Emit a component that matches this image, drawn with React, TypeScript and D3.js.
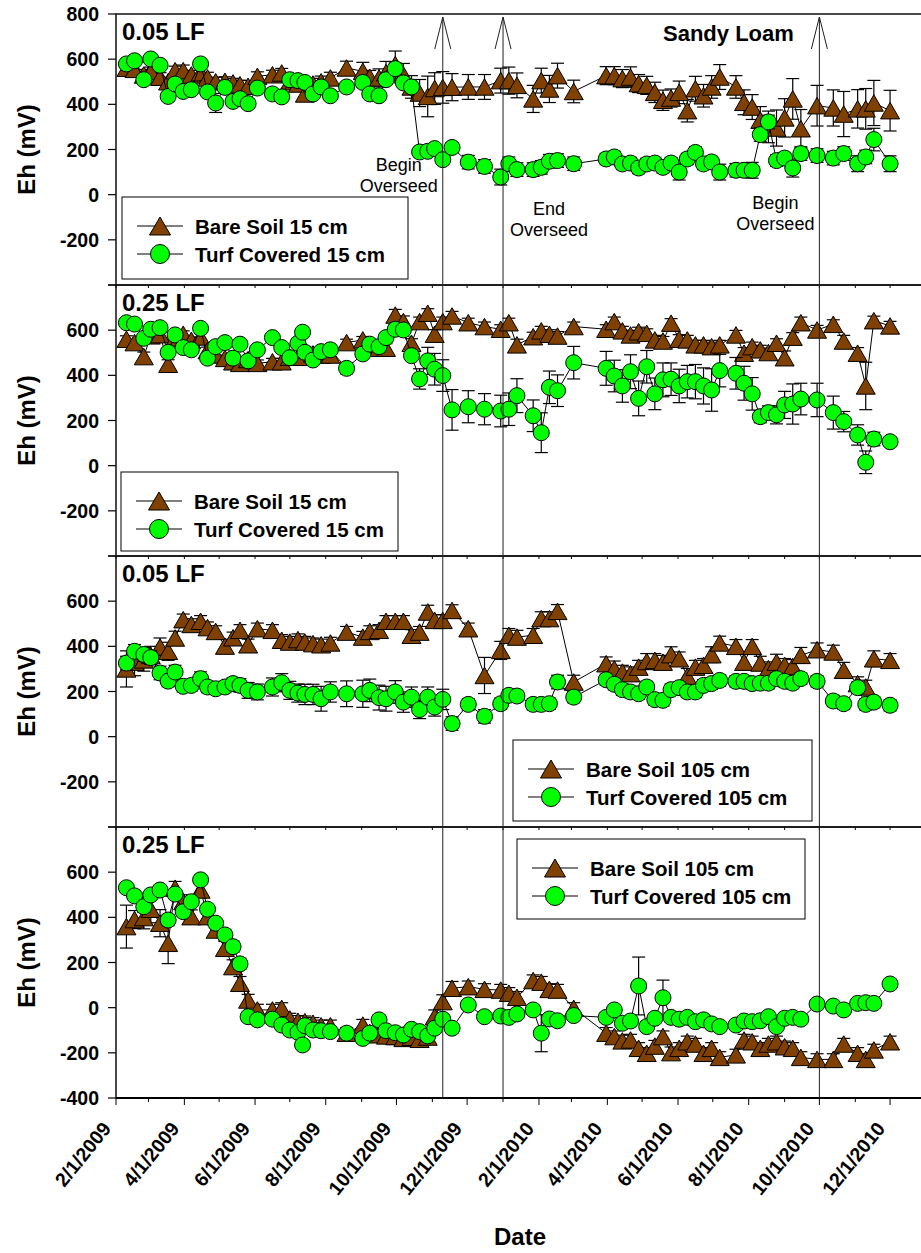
import React, { useEffect } from "react";
import * as d3 from "d3";

// sampling dates shared by all four panels
const sampleDates = [
  "2009-02-10", "2009-02-17", "2009-02-25", "2009-03-03", "2009-03-11", "2009-03-18", "2009-03-24", "2009-03-31",
  "2009-04-07", "2009-04-15", "2009-04-21", "2009-04-28", "2009-05-06", "2009-05-13", "2009-05-19", "2009-05-26",
  "2009-06-03", "2009-06-16", "2009-06-24", "2009-07-01", "2009-07-08", "2009-07-12", "2009-07-14", "2009-07-21",
  "2009-07-28", "2009-08-05", "2009-08-19", "2009-09-02", "2009-09-08", "2009-09-16", "2009-09-22", "2009-09-30",
  "2009-10-07", "2009-10-14", "2009-10-21", "2009-10-28", "2009-11-03", "2009-11-10", "2009-11-18", "2009-12-02",
  "2009-12-16", "2009-12-30", "2010-01-06", "2010-01-13", "2010-01-27", "2010-02-03", "2010-02-10", "2010-02-17",
  "2010-03-03", "2010-03-31", "2010-04-07", "2010-04-14", "2010-04-21", "2010-04-28", "2010-05-05", "2010-05-12",
  "2010-05-19", "2010-05-26", "2010-06-02", "2010-06-09", "2010-06-16", "2010-06-23", "2010-06-30", "2010-07-07",
  "2010-07-21", "2010-07-28", "2010-08-04", "2010-08-11", "2010-08-18", "2010-08-25", "2010-09-01", "2010-09-08",
  "2010-09-15", "2010-09-29", "2010-10-13", "2010-10-22", "2010-11-03", "2010-11-10", "2010-11-17", "2010-12-01",
];

// panel 1: 0.05 LF, 15 cm
const p1Bare = [
  560, 555, 530, 545, 520, 500, 549, 549, 530, 540, 517, 500, 502, 495, 487, 480, 524, 531, 539, 500, 490,
  null,
  446, 490, 500, 517, 561, 546, 520, 517, 540, 576, 531, 477, 450, 435, 470, 475, 476,
  477, 477, 505, 505, 484, 424, 505, 468, 527, 457, 527, 527, 514, 521, 492, 484, 453, 418, 428, 453,
  372, 469, 438, 477, 521, 477, 409, 388, 330, 300, 295, 340, 424, 292, 394, 384, 357, 380, 380, 406, 372,
];
const p1BareErr = [
  20, 20, 25, 20, 20, 20, 20, 25, 20, 20, 25, 20, 20, 20, 20, 25, 20, 20, 20, 20, 20,
  null,
  25, 25, 25, 25, 30, 40, 30, 40, 50, 60, 50, 50, 60, 90, 70, 70, 60,
  55, 55, 55, 60, 55, 60, 55, 60, 55, 50, 40, 40, 40, 45, 40, 40, 45, 45, 40, 50,
  50, 55, 50, 50, 55, 50, 55, 55, 60, 70, 80, 85, 90, 85, 90, 80, 100, 85, 90, 100, 90,
];
const p1Turf = [
  579, 593, 509, 601, 573, 435, 490, 457, 465, 579, 455, 406, 475, 413, 425, 403, 472, 446, 433, 509, 505,
  null,
  497, 446, 477, 438, 477, 497, 446, 438, 509, 558, 495, 477, 189, 192, 204, 155, 209,
  144, 125, 78, 137, 111, 111, 121, 148, 151, 137, 158, 167, 136, 140, 118, 136, 140, 121, 140, 100,
  158, 187, 136, 145, 100, 108, 108, 108, 266, 322, 151, 162, 118, 182, 173, 162, 182, 137, 167, 244, 137,
];
const p1TurfErr = [
  15, 15, 15, 15, 15, 15, 15, 15, 15, 15, 15, 42, 15, 20, 15, 20, 15, 15, 15, 15, 15,
  null,
  15, 15, 15, 15, 15, 15, 15, 15, 20, 25, 15, 15, 20, 20, 20, 20, 20,
  30, 30, 35, 30, 30, 30, 30, 30, 30, 30, 25, 25, 25, 25, 25, 25, 25, 25, 25, 35,
  25, 25, 25, 25, 35, 30, 30, 35, 30, 30, 25, 25, 40, 30, 30, 30, 30, 35, 30, 50, 35,
];

// panel 2: 0.25 LF, 15 cm
const p2Bare = [
  560, 545, 483, 575, 580, 449, 565, 582, 555, 570, 510, 490, 475, 460, 453, 470, 453, 460, 460, 480, 480,
  null,
  513, 495, 490, 490, 545, 557, 530, 520, 520, 667, 638, 542, 638, 675, 582, 638, 663,
  633, 616, 604, 633, 535, 571, 597, 582, 574, 616, 604, 638, 597, 579, 593, 586, 557, 552, 631, 560,
  557, 535, 535, 527, 535, 579, 498, 527, 513, 501, 542, 478, 569, 633, 601, 626, 552, 498, 353, 642, 619,
];
const p2BareErr = [
  15, 15, 20, 15, 15, 20, 15, 15, 15, 15, 15, 15, 15, 15, 15, 15, 15, 15, 15, 15, 15,
  null,
  15, 15, 15, 15, 15, 15, 15, 15, 20, 25, 25, 20, 20, 20, 20, 20, 20,
  20, 20, 20, 20, 25, 20, 20, 20, 20, 20, 20, 20, 20, 20, 20, 20, 20, 20, 20, 20,
  20, 20, 20, 20, 20, 20, 25, 20, 20, 20, 20, 30, 20, 25, 20, 20, 25, 25, 105, 20, 20,
];
const p2Turf = [
  633, 627, 564, 604, 611, 502, 579, 523, 513, 608, 476, 527, 545, 476, 538, 464, 513, 567, 523, 478, 542,
  591,
  502, 468, 505, 513, 431, 495, 538, 527, 567, 604, 601, 487, 384, 464, 427, 399, 247,
  261, 250, 242, 250, 310, 221, 146, 347, 332, 456, 431, 397, 353, 416, 298, 438, 318, 380, 383, 353,
  372, 372, 353, 335, 421, 409, 365, 318, 217, 235, 225, 269, 273, 295, 291, 235, 195, 136, 15, 118, 106,
];
const p2TurfErr = [
  15, 15, 15, 15, 15, 15, 15, 15, 15, 15, 15, 15, 15, 15, 15, 15, 15, 15, 15, 15, 15,
  15,
  15, 15, 15, 15, 25, 15, 15, 15, 15, 20, 20, 20, 45, 60, 70, 70, 90,
  71, 69, 70, 72, 75, 70, 88, 72, 70, 72, 75, 70, 72, 75, 77, 72, 70, 75, 72, 74,
  72, 76, 80, 94, 72, 70, 75, 72, 27, 30, 40, 60, 89, 70, 74, 73, 45, 45, 50, 30, 15,
];

// panel 3: 0.05 LF, 105 cm
const p3Bare = [
  300, 330, 340, 360, 397, 378, 437, 518, 497, 511, 483, 466, 401, 438, 471, 407, 478, 471, 427, 419, 430,
  null,
  419, 412, 407, 415, 463, 441, 466, 471, 511, 511, 511, 449, 463, 552, 515, 515, 559,
  478, 271, 382, 449, 441, 449, 523, 523, 555, 242, 323, 300, 286, 279, 308, 333, 338, 330, 363, 345,
  267, 308, 316, 363, 415, 400, 330, 400, 326, 301, 330, 316, 311, 360, 385, 375, 294, 235, 220, 345, 338,
];
const p3BareErr = [
  80, 60, 50, 40, 40, 40, 30, 25, 25, 25, 25, 25, 30, 25, 25, 25, 25, 25, 25, 25, 25,
  null,
  25, 25, 25, 25, 25, 25, 25, 25, 25, 25, 25, 25, 25, 30, 25, 25, 25,
  25, 80, 40, 30, 30, 30, 30, 30, 30, 30, 30, 35, 30, 30, 30, 35, 30, 30, 35, 30,
  35, 30, 30, 35, 30, 30, 35, 30, 30, 30, 35, 30, 30, 35, 30, 30, 35, 30, 30, 35, 30,
];
const p3Turf = [
  326, 378, 364, 350, 282, 246, 286, 223, 227, 257, 220, 212, 220, 235, 227, 205, 198, 220, 239, 205, 193,
  null,
  187, 187, 168, 198, 190, 190, 205, 173, 168, 198, 153, 175, 120, 175, 131, 165, 58,
  143, 90, 146, 183, 180, 143, 143, 146, 242, 175, 252, 232, 208, 198, 190, 220, 164, 161, 208, 217,
  198, 198, 227, 235, 249, 245, 245, 235, 237, 237, 257, 245, 237, 257, 245, 158, 146, 217, 143, 153, 139,
];
const p3TurfErr = [
  30, 30, 30, 30, 30, 25, 30, 25, 25, 30, 25, 25, 25, 25, 30, 35, 35, 40, 40, 40, 40,
  null,
  45, 45, 55, 45, 57, 60, 50, 55, 55, 50, 45, 45, 40, 45, 40, 45, 30,
  25, 30, 25, 25, 25, 25, 25, 25, 30, 25, 25, 25, 25, 25, 25, 25, 25, 25, 25, 25,
  25, 25, 25, 25, 25, 25, 25, 25, 25, 25, 25, 25, 25, 25, 25, 25, 25, 25, 25, 25, 25,
];

// panel 4: 0.25 LF, 105 cm
const p4Bare = [
  359, 390, 399, 436, 374, 285, 529, 470, 403, 521, 403, 344, 263, 182, 108, 34, -10, -10, -3, -50, -60,
  null,
  -62, -69, -80, -80, -113, -77, -110, -120, -125, -128, -136, -131, -140, -130, -40, 27, 86,
  93, 81, 78, 64, 46, 120, 113, 81, 78, -3, -113, -128, -147, -143, -180, -202, -170, -128, -199, -180,
  -151, -161, -202, -180, -220, -209, -143, -151, -180, -161, -151, -173, -180, -220, -229, -229, -161, -202, -229, -187, -151,
];
const p4BareErr = [
  95, 40, 50, 60, 60, 90, 30, 30, 30, 30, 30, 30, 30, 30, 30, 25, 25, 25, 25, 25, 25,
  null,
  25, 25, 25, 25, 25, 25, 25, 25, 30, 35, 35, 35, 30, 30, 30, 30, 30,
  25, 25, 25, 25, 25, 25, 25, 25, 25, 25, 25, 25, 25, 25, 25, 25, 25, 25, 25, 25,
  25, 25, 25, 25, 25, 25, 25, 25, 25, 25, 25, 25, 25, 25, 25, 25, 25, 25, 25, 25, 25,
];
const p4Turf = [
  531, 495, 447, 499, 521, 388, 503, 425, 469, 566, 436, 374, 322, 270, 194, -40, -54, -51, -77, -99, -109,
  -165,
  -80, -99, -102, -106, -113, -136, -113, -54, -102, -111, -121, -96, -106, -125, -91, -51, -91,
  12, -40, -37, -43, -28, -10, -113, -50, -58, -35, -43, -10, -69, -59, 96, -84, -47, 44, -43, -51,
  -43, -62, -54, -72, -84, -77, -59, -62, -58, -40, -84, -47, -43, -51, 16, 7, -10, 19, 22, 19, 105,
];
const p4TurfErr = [
  20, 20, 25, 20, 20, 25, 20, 20, 20, 20, 20, 20, 25, 25, 25, 20, 20, 20, 20, 20, 20,
  20,
  20, 20, 20, 20, 20, 20, 20, 20, 20, 20, 20, 20, 20, 20, 20, 20, 20,
  20, 20, 20, 20, 20, 20, 82, 20, 20, 20, 20, 20, 20, 20, 128, 20, 20, 78, 20, 20,
  20, 20, 20, 20, 20, 20, 20, 20, 20, 20, 20, 20, 20, 20, 20, 20, 20, 20, 20, 20, 20,
];

const panelTitles = ["0.05 LF", "0.25 LF", "0.05 LF", "0.25 LF"];
const depthLabels = ["15 cm", "15 cm", "105 cm", "105 cm"];
const yTickValues = [-400, -200, 0, 200, 400, 600, 800];
const overseedDates = ["2009-11-10", "2010-01-01", "2010-10-01"];
const overseedNotes = [["Begin", "Overseed"], ["End", "Overseed"], ["Begin", "Overseed"]];

const FONT = "'Liberation Sans', Arial, Helvetica, sans-serif";
const BROWN = "#804000";
const GREEN = "#00ff00";

const parse = d3.timeParse("%Y-%m-%d");
const dates = sampleDates.map((s) => parse(s));

const x = d3
  .scaleTime()
  .domain([new Date(2009, 1, 1), new Date(2011, 0, 1)])
  .range([116, 926]);

const PANEL_H = 271;
const panelTops = [14, 285, 556, 827];
const bottom = panelTops[3] + PANEL_H;

const panels = [
  { bare: p1Bare, bareErr: p1BareErr, turf: p1Turf, turfErr: p1TurfErr, legend: { x: 122, y: 197, w: 286, h: 82 } },
  { bare: p2Bare, bareErr: p2BareErr, turf: p2Turf, turfErr: p2TurfErr, legend: { x: 121, y: 472, w: 277, h: 79 } },
  { bare: p3Bare, bareErr: p3BareErr, turf: p3Turf, turfErr: p3TurfErr, legend: { x: 513, y: 740, w: 299, h: 81 } },
  { bare: p4Bare, bareErr: p4BareErr, turf: p4Turf, turfErr: p4TurfErr, legend: { x: 517, y: 839, w: 288, h: 80 } },
];

const triPath = (cx: number, cy: number, w: number, h: number) =>
  `M${cx},${cy - h / 2}L${cx + w / 2},${cy + h / 2}L${cx - w / 2},${cy + h / 2}Z`;

function Series({ vals, errs, y, kind }: any) {
  const pts = dates
    .map((d, i) => ({ d: d as Date, v: vals[i], e: errs[i] }))
    .filter((p) => p.v !== null && p.v !== undefined);
  const line = d3
    .line<any>()
    .x((p) => x(p.d))
    .y((p) => y(p.v));
  return (
    <g>
      <path d={line(pts) || ""} fill="none" stroke="#000" strokeWidth={1} />
      {pts.map((p, i) => {
        const cx = x(p.d);
        const e = p.e || 0;
        const y1 = y(p.v + e);
        const y2 = y(p.v - e);
        return (
          <g key={"e" + i} stroke="#000" strokeWidth={1.2}>
            <line x1={cx} x2={cx} y1={y1} y2={y2} />
            <line x1={cx - 6.5} x2={cx + 6.5} y1={y1} y2={y1} />
            <line x1={cx - 6.5} x2={cx + 6.5} y1={y2} y2={y2} />
          </g>
        );
      })}
      {pts.map((p, i) =>
        kind === "tri" ? (
          <path key={"m" + i} d={triPath(x(p.d), y(p.v), 19, 16.5)} fill={BROWN} stroke="#000" strokeWidth={1} />
        ) : (
          <circle key={"m" + i} cx={x(p.d)} cy={y(p.v)} r={8} fill={GREEN} stroke="#000" strokeWidth={1} />
        )
      )}
    </g>
  );
}

function Legend({ box, depth }: any) {
  const lx = box.x + 15;
  const rows = [
    { label: `Bare Soil ${depth}`, kind: "tri", cy: box.y + 29 },
    { label: `Turf Covered ${depth}`, kind: "circ", cy: box.y + 57 },
  ];
  return (
    <g>
      <rect x={box.x} y={box.y} width={box.w} height={box.h} fill="#fff" stroke="#000" strokeWidth={1} />
      {rows.map((r) => (
        <g key={r.label}>
          <line x1={lx} x2={lx + 46} y1={r.cy} y2={r.cy} stroke="#000" strokeWidth={1} />
          {r.kind === "tri" ? (
            <path d={triPath(lx + 23, r.cy, 21, 18)} fill={BROWN} stroke="#000" />
          ) : (
            <circle cx={lx + 23} cy={r.cy} r={9.5} fill={GREEN} stroke="#000" />
          )}
          <text x={lx + 58} y={r.cy + 7.5} fontSize={20.5} fontWeight="bold" fontFamily={FONT}>
            {r.label}
          </text>
        </g>
      ))}
    </g>
  );
}

export default function App() {
  useEffect(() => {
    document.body.style.margin = "0";
  }, []);

  const months = d3.timeMonth.range(new Date(2009, 1, 1), new Date(2011, 0, 1));
  const fmt = d3.timeFormat("%-m/%-d/%Y");

  return (
    <svg width={921} height={1253} style={{ display: "block", background: "#fff" }} fontFamily={FONT}>
      {panels.map((p, pi) => {
        const top = panelTops[pi];
        const y = d3.scaleLinear().domain([-400, 800]).range([top + PANEL_H, top]);
        return (
          <g key={pi}>
            {/* y axis ticks and labels */}
            {yTickValues.map((v) => {
              const show = (v < 800 || pi === 0) && (v > -400 || pi === 3);
              return (
                <g key={v}>
                  <line x1={108} x2={116} y1={y(v)} y2={y(v)} stroke="#000" strokeWidth={1.2} />
                  {show && (
                    <text x={99} y={y(v) + 7} textAnchor="end" fontSize={19.5} fontWeight="bold">
                      {v}
                    </text>
                  )}
                </g>
              );
            })}
            {/* month ticks along the panel bottom */}
            {months.map((m, i) => (
              <line
                key={i}
                x1={x(m)}
                x2={x(m)}
                y1={top + PANEL_H}
                y2={top + PANEL_H + (pi === 3 ? (i % 2 === 0 ? 7 : 4) : 3)}
                stroke="#000"
                strokeWidth={1}
              />
            ))}
            <text
              transform={`translate(35,${top + PANEL_H / 2}) rotate(-90)`}
              textAnchor="middle"
              fontSize={24}
              fontWeight="bold"
            >
              Eh (mV)
            </text>
            <text x={122} y={top + 26} fontSize={24} fontWeight="bold">
              {panelTitles[pi]}
            </text>
            <Series vals={p.bare} errs={p.bareErr} y={y} kind="tri" />
            <Series vals={p.turf} errs={p.turfErr} y={y} kind="circ" />
            <Legend box={p.legend} depth={depthLabels[pi]} />
          </g>
        );
      })}

      {/* panel frames */}
      {panelTops.map((t, i) => (
        <rect key={i} x={116} y={t} width={810} height={PANEL_H} fill="none" stroke="#111" strokeWidth={1.5} />
      ))}
      <line x1={116} x2={921} y1={bottom} y2={bottom} stroke="#000" strokeWidth={2} />

      {/* overseeding markers */}
      {overseedDates.map((s) => {
        const vx = x(parse(s) as Date);
        return (
          <g key={s} stroke="#222" strokeWidth={1} fill="none">
            <line x1={vx} x2={vx} y1={17} y2={bottom} />
            <polyline points={`${vx - 8},49 ${vx},17 ${vx + 8},49`} />
          </g>
        );
      })}
      {overseedDates.map((s, i) => {
        const vx = x(parse(s) as Date) + (i === 1 ? 46 : -44);
        const base = [171, 215, 209][i];
        return (
          <text key={"n" + s} x={vx} textAnchor="middle" fontSize={18} fill="#000">
            <tspan x={vx} y={base}>{overseedNotes[i][0]}</tspan>
            <tspan x={vx} y={base + 21}>{overseedNotes[i][1]}</tspan>
          </text>
        );
      })}
      <text x={663} y={41} fontSize={22} fontWeight="bold">
        Sandy Loam
      </text>

      {/* x tick labels */}
      {months
        .filter((_, i) => i % 2 === 0)
        .map((m, i) => (
          <text
            key={i}
            transform={`translate(${x(m) - 4},${bottom + 31}) rotate(-51)`}
            textAnchor="end"
            fontSize={19.5}
            fontWeight="bold"
          >
            {fmt(m)}
          </text>
        ))}
      <text x={520} y={1245} textAnchor="middle" fontSize={24} fontWeight="bold">
        Date
      </text>
    </svg>
  );
}
